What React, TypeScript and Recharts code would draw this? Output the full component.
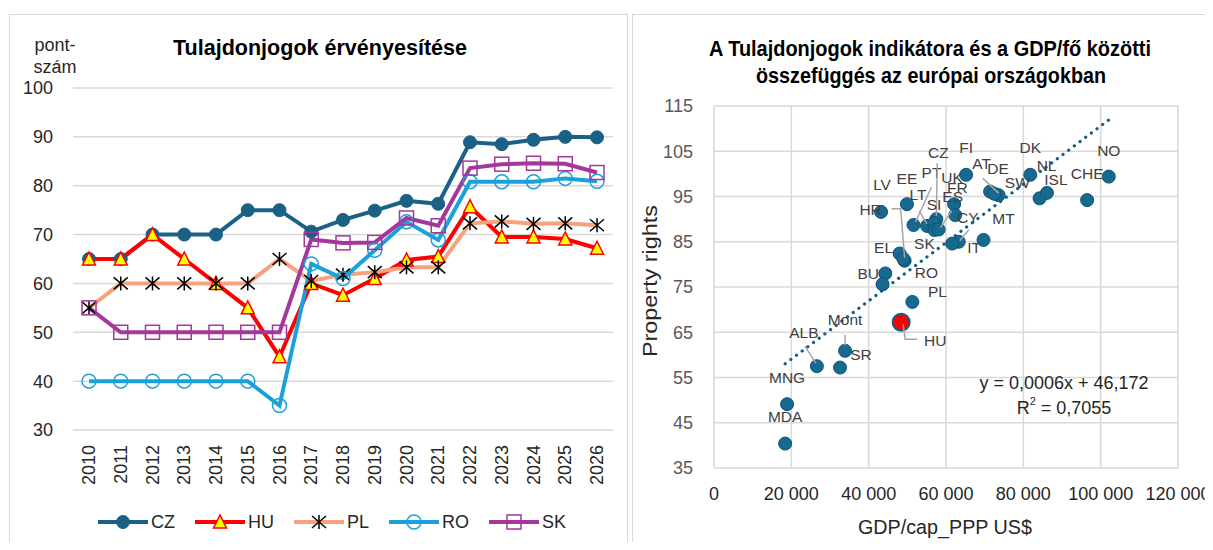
import React from "react";
import {
  LineChart,
  Line,
  XAxis,
  YAxis,
  CartesianGrid,
  ScatterChart,
  Scatter,
  ReferenceLine,
} from "recharts";

// left chart: property rights score by year
const years = ["2010", "2011", "2012", "2013", "2014", "2015", "2016", "2017", "2018", "2019", "2020", "2021", "2022", "2023", "2024", "2025", "2026"];
const cz = [65, 65, 70, 70, 70, 75, 75, 70.6, 73, 74.9, 76.9, 76.3, 88.9, 88.5, 89.4, 90, 89.9];
const hu = [65, 65, 70, 65, 60, 55, 45, 60, 57.6, 61, 64.8, 65.5, 75.7, 69.5, 69.5, 69.1, 67.2];
const pl = [55, 60, 60, 60, 60, 60, 65, 60.5, 61.8, 62.3, 63.3, 63.3, 72.3, 72.7, 72.2, 72.3, 71.9];
const ro = [40, 40, 40, 40, 40, 40, 35, 64, 61, 66.8, 72.6, 68.9, 80.8, 80.8, 80.8, 81.5, 80.9];
const sk = [55, 50, 50, 50, 50, 50, 50, 69, 68.3, 68.4, 73.4, 71.8, 83.6, 84.4, 84.6, 84.5, 82.7];
const leftTicks = [30, 40, 50, 60, 70, 80, 90, 100];

// right chart: GDP/cap PPP vs property rights
const countries = ["MDA", "MNG", "ALB", "SR", "Mont", "HU", "PL", "BU", "MK", "EL", "HR", "RO", "LV", "EE", "PT", "LT", "CZ", "SI", "SK", "ES", "UK", "FR", "CY", "IT", "FI", "MT", "AT", "DE", "SW", "DK", "NL", "ISL", "CHE", "NO"];
const gdp = [18400, 18900, 26600, 32600, 33900, 48400, 51300, 44300, 43600, 48000, 49300, 49000, 43200, 49900, 51600, 55100, 57500, 56900, 57000, 58100, 62100, 62400, 63300, 61600, 65200, 69700, 73600, 71400, 72500, 81800, 84200, 86100, 96500, 102100];
const rights = [40.4, 49.1, 57.5, 57.2, 60.9, 67.2, 71.7, 78.0, 75.6, 82.4, 80.8, 81.2, 91.6, 93.3, 88.7, 88.5, 90.0, 89.1, 87.6, 87.7, 93.3, 90.9, 85.0, 84.6, 99.8, 85.4, 95.3, 96.1, 95.6, 99.8, 94.6, 95.8, 94.2, 99.4];
const xTicks = [0, 20000, 40000, 60000, 80000, 100000, 120000];
const yTicks = [35, 45, 55, 65, 75, 85, 95, 105, 115];
const trendSlope = 0.000644;
const trendIntercept = 46.172;

const lineData = years.map((year, i) => ({ year, CZ: cz[i], HU: hu[i], PL: pl[i], RO: ro[i], SK: sk[i] }));
const points = countries.map((name, i) => ({ name, x: gdp[i], y: rights[i] }));
const huPoint = points.filter((p) => p.name === "HU");
const otherPoints = points.filter((p) => p.name !== "HU");
const xMin = Math.min(...gdp);
const xMax = Math.max(...gdp);

const FONT = "'Liberation Sans', Arial, sans-serif";

type Mk = (cx: number, cy: number, key?: any) => React.ReactElement;

const markers: Record<string, Mk> = {
  CZ: (cx, cy, key) => <circle key={key} cx={cx} cy={cy} r={6.5} fill="#1b6185" stroke="#1b6185" />,
  HU: (cx, cy, key) => (
    <polygon key={key} points={`${cx},${cy - 7} ${cx - 6.5},${cy + 6} ${cx + 6.5},${cy + 6}`} fill="#ffff00" stroke="#ff0000" strokeWidth={1.5} />
  ),
  PL: (cx, cy, key) => (
    <g key={key} stroke="#000" strokeWidth={1.5}>
      <line x1={cx} y1={cy - 7} x2={cx} y2={cy + 7} />
      <line x1={cx - 7} y1={cy - 6} x2={cx + 7} y2={cy + 6} />
      <line x1={cx - 7} y1={cy + 6} x2={cx + 7} y2={cy - 6} />
    </g>
  ),
  RO: (cx, cy, key) => <circle key={key} cx={cx} cy={cy} r={7} fill="none" stroke="#1aa1da" strokeWidth={1.5} />,
  SK: (cx, cy, key) => <rect key={key} x={cx - 7} y={cy - 7} width={14} height={14} fill="none" stroke="#a3379c" strokeWidth={1.5} />,
};

const series = [
  { key: "CZ", color: "#1b6185" },
  { key: "HU", color: "#ff0000" },
  { key: "PL", color: "#f7a27c" },
  { key: "RO", color: "#1aa1da" },
  { key: "SK", color: "#a3379c" },
];

// label offsets from the point, with optional leader line
const labelPos: Record<string, [number, number, number[][]?]> = {
  MDA: [0, -27], MNG: [0, -27], ALB: [-13, -34, [[-12, -20], [-1, -3]]], SR: [21, -13],
  Mont: [0, -31, [[0, -16], [0, -5]]], HU: [34, 18, [[2, 2], [4, 17], [16, 17]]], PL: [25, -10],
  BU: [-17, 0], EL: [-16, -6], HR: [-34, -51, [[-13, -52], [-4, -52], [0, -3]]], RO: [23, 14],
  LV: [1, -27], EE: [0, -26], PT: [18, -53, [[18, -38], [2, -3]]], LT: [-9, -31, [[-8, -15], [0, -2]]],
  CZ: [2, -67, [[1, -56], [0, -3]]], SI: [0, -19], SK: [-10, 14], ES: [14, -33, [[13, -19], [2, -2]]],
  UK: [-2, -27], FR: [2, -28], CY: [9, -24, [[10, -12], [1, -1]]], IT: [22, 4], FI: [0, -27],
  MT: [20, -21], AT: [-17, -32, [[-16, -17], [0, -2]]], DE: [8, -23], SW: [23, -11], DK: [0, -27],
  NL: [7, -33], ISL: [9, -13], CHE: [0, -27], NO: [0, -26],
};

const YearTick = (props: any) => {
  const { x, y, payload } = props;
  return (
    <text x={x} y={y} transform={`rotate(-90 ${x} ${y})`} textAnchor="end" dominantBaseline="central" fontSize={18} fill="#262626" fontFamily={FONT}>
      {payload.value}
    </text>
  );
};

const pointShape = (p: any) => <circle cx={p.cx} cy={p.cy} r={6.5} fill="#16698f" stroke="#0f5274" strokeWidth={1} />;
const huShape = (p: any) => <circle cx={p.cx} cy={p.cy} r={8.5} fill="#ff0000" stroke="#156082" strokeWidth={2} />;

const labelShape = (p: any) => {
  const { cx, cy, payload } = p;
  const o = labelPos[payload.name];
  if (!o) return <g />;
  const [dx, dy, leader] = o;
  return (
    <g>
      {leader && (
        <polyline points={leader.map(([a, b]) => `${cx + a},${cy + b}`).join(" ")} fill="none" stroke="#a6a6a6" strokeWidth={1.5} />
      )}
      <text x={cx + dx} y={cy + dy} textAnchor="middle" dominantBaseline="central" fontSize={15.5} fill="#404040" fontFamily={FONT}>
        {payload.name}
      </text>
    </g>
  );
};

const fmtX = (v: number) => (v === 0 ? "0" : `${Math.round(v / 1000)} 000`);

export default function App() {
  return (
    <div style={{ position: "relative", width: 1213, height: 550, margin: -8, overflow: "hidden", background: "#fff", fontFamily: FONT }}>
      <div style={{ position: "absolute", left: 9, top: 14, width: 617, height: 540, border: "1.5px solid #d9d9d9", borderBottom: "none" }} />
      <div style={{ position: "absolute", left: 632, top: 14, width: 600, height: 540, border: "1.5px solid #d9d9d9", borderBottom: "none" }} />

      <div style={{ position: "absolute", left: 0, top: 0 }}>
        <LineChart width={615} height={550} data={lineData} margin={{ top: 88, right: 2, left: 0, bottom: 60 }}>
          <CartesianGrid vertical={false} stroke="#d9d9d9" strokeWidth={1.5} />
          <XAxis
            dataKey="year"
            interval={0}
            height={60}
            padding={{ left: 16, right: 16 }}
            axisLine={false}
            tickLine={false}
            tickSize={0}
            tickMargin={15}
            tick={<YearTick />}
          />
          <YAxis
            domain={[30, 100]}
            ticks={leftTicks}
            width={73}
            axisLine={false}
            tickLine={false}
            tickSize={0}
            tickMargin={20}
            tick={{ fontSize: 18, fill: "#262626", fontFamily: FONT }}
          />
          {series.map((s) => (
            <Line
              key={s.key}
              dataKey={s.key}
              type="linear"
              stroke={s.color}
              strokeWidth={4}
              isAnimationActive={false}
              dot={(p: any) => markers[s.key](p.cx, p.cy, p.index)}
              activeDot={false}
            />
          ))}
        </LineChart>
      </div>

      <div style={{ position: "absolute", left: 98, top: 511, display: "flex", alignItems: "center", fontSize: 18, color: "#262626" }}>
        {series.map((s) => (
          <div key={s.key} style={{ display: "flex", alignItems: "center", marginRight: 20 }}>
            <svg width={50} height={22}>
              <line x1={0} y1={11} x2={50} y2={11} stroke={s.color} strokeWidth={4} />
              {markers[s.key](25, 11)}
            </svg>
            <span style={{ marginLeft: 3, lineHeight: "22px" }}>{s.key}</span>
          </div>
        ))}
      </div>

      <div style={{ position: "absolute", left: 633, top: 0 }}>
        <ScatterChart width={580} height={550} margin={{ top: 106, right: 35, left: 0, bottom: 42 }}>
          <CartesianGrid stroke="#d9d9d9" strokeWidth={1.5} />
          <XAxis
            type="number"
            dataKey="x"
            domain={[0, 120000]}
            ticks={xTicks}
            height={40}
            axisLine={false}
            tickLine={false}
            tickSize={0}
            tickMargin={19}
            tickFormatter={fmtX}
            tick={{ fontSize: 18, fill: "#262626", fontFamily: FONT }}
          />
          <YAxis
            type="number"
            dataKey="y"
            domain={[35, 115]}
            ticks={yTicks}
            width={81}
            axisLine={false}
            tickLine={false}
            tickSize={0}
            tickMargin={21}
            tick={{ fontSize: 18, fill: "#595959", fontFamily: FONT }}
          />
          <Scatter data={otherPoints} shape={pointShape} isAnimationActive={false} />
          <Scatter data={huPoint} shape={huShape} isAnimationActive={false} />
          <ReferenceLine
            segment={[
              { x: xMin, y: trendSlope * xMin + trendIntercept },
              { x: xMax, y: trendSlope * xMax + trendIntercept },
            ]}
            stroke="#156082"
            strokeWidth={3.2}
            strokeDasharray="0.1 7"
            strokeLinecap="round"
            ifOverflow="visible"
          />
          <Scatter data={points} shape={labelShape} isAnimationActive={false} />
        </ScatterChart>
      </div>

      <svg width={1213} height={550} style={{ position: "absolute", left: 0, top: 0, pointerEvents: "none" }} fontFamily={FONT}>
        <text x={320} y={47} textAnchor="middle" dominantBaseline="central" fontSize={22} fontWeight="bold" fill="#000" textLength={294} lengthAdjust="spacingAndGlyphs">
          Tulajdonjogok érvényesítése
        </text>
        <text x={55} y={45} textAnchor="middle" dominantBaseline="central" fontSize={18} fill="#262626">pont-</text>
        <text x={55} y={67} textAnchor="middle" dominantBaseline="central" fontSize={18} fill="#262626">szám</text>

        <text x={930} y={48} textAnchor="middle" dominantBaseline="central" fontSize={22} fontWeight="bold" fill="#000" textLength={442} lengthAdjust="spacingAndGlyphs">
          A Tulajdonjogok indikátora és a GDP/fő közötti
        </text>
        <text x={931} y={75} textAnchor="middle" dominantBaseline="central" fontSize={22} fontWeight="bold" fill="#000" textLength={350} lengthAdjust="spacingAndGlyphs">
          összefüggés az európai országokban
        </text>
        <text x={650} y={281} transform="rotate(-90 650 281)" textAnchor="middle" dominantBaseline="central" fontSize={20} fill="#262626" textLength={152} lengthAdjust="spacingAndGlyphs">
          Property rights
        </text>
        <text x={945} y={527} textAnchor="middle" dominantBaseline="central" fontSize={20} fill="#262626" textLength={174} lengthAdjust="spacingAndGlyphs">
          GDP/cap_PPP US$
        </text>
        <text x={1064} y={383} textAnchor="middle" dominantBaseline="central" fontSize={18} fill="#262626">
          y = 0,0006x + 46,172
        </text>
        <text x={1064} y={408} textAnchor="middle" dominantBaseline="central" fontSize={18} fill="#262626">
          R<tspan fontSize={11} dy={-7}>2</tspan>
          <tspan dy={7}> = 0,7055</tspan>
        </text>
      </svg>
    </div>
  );
}
